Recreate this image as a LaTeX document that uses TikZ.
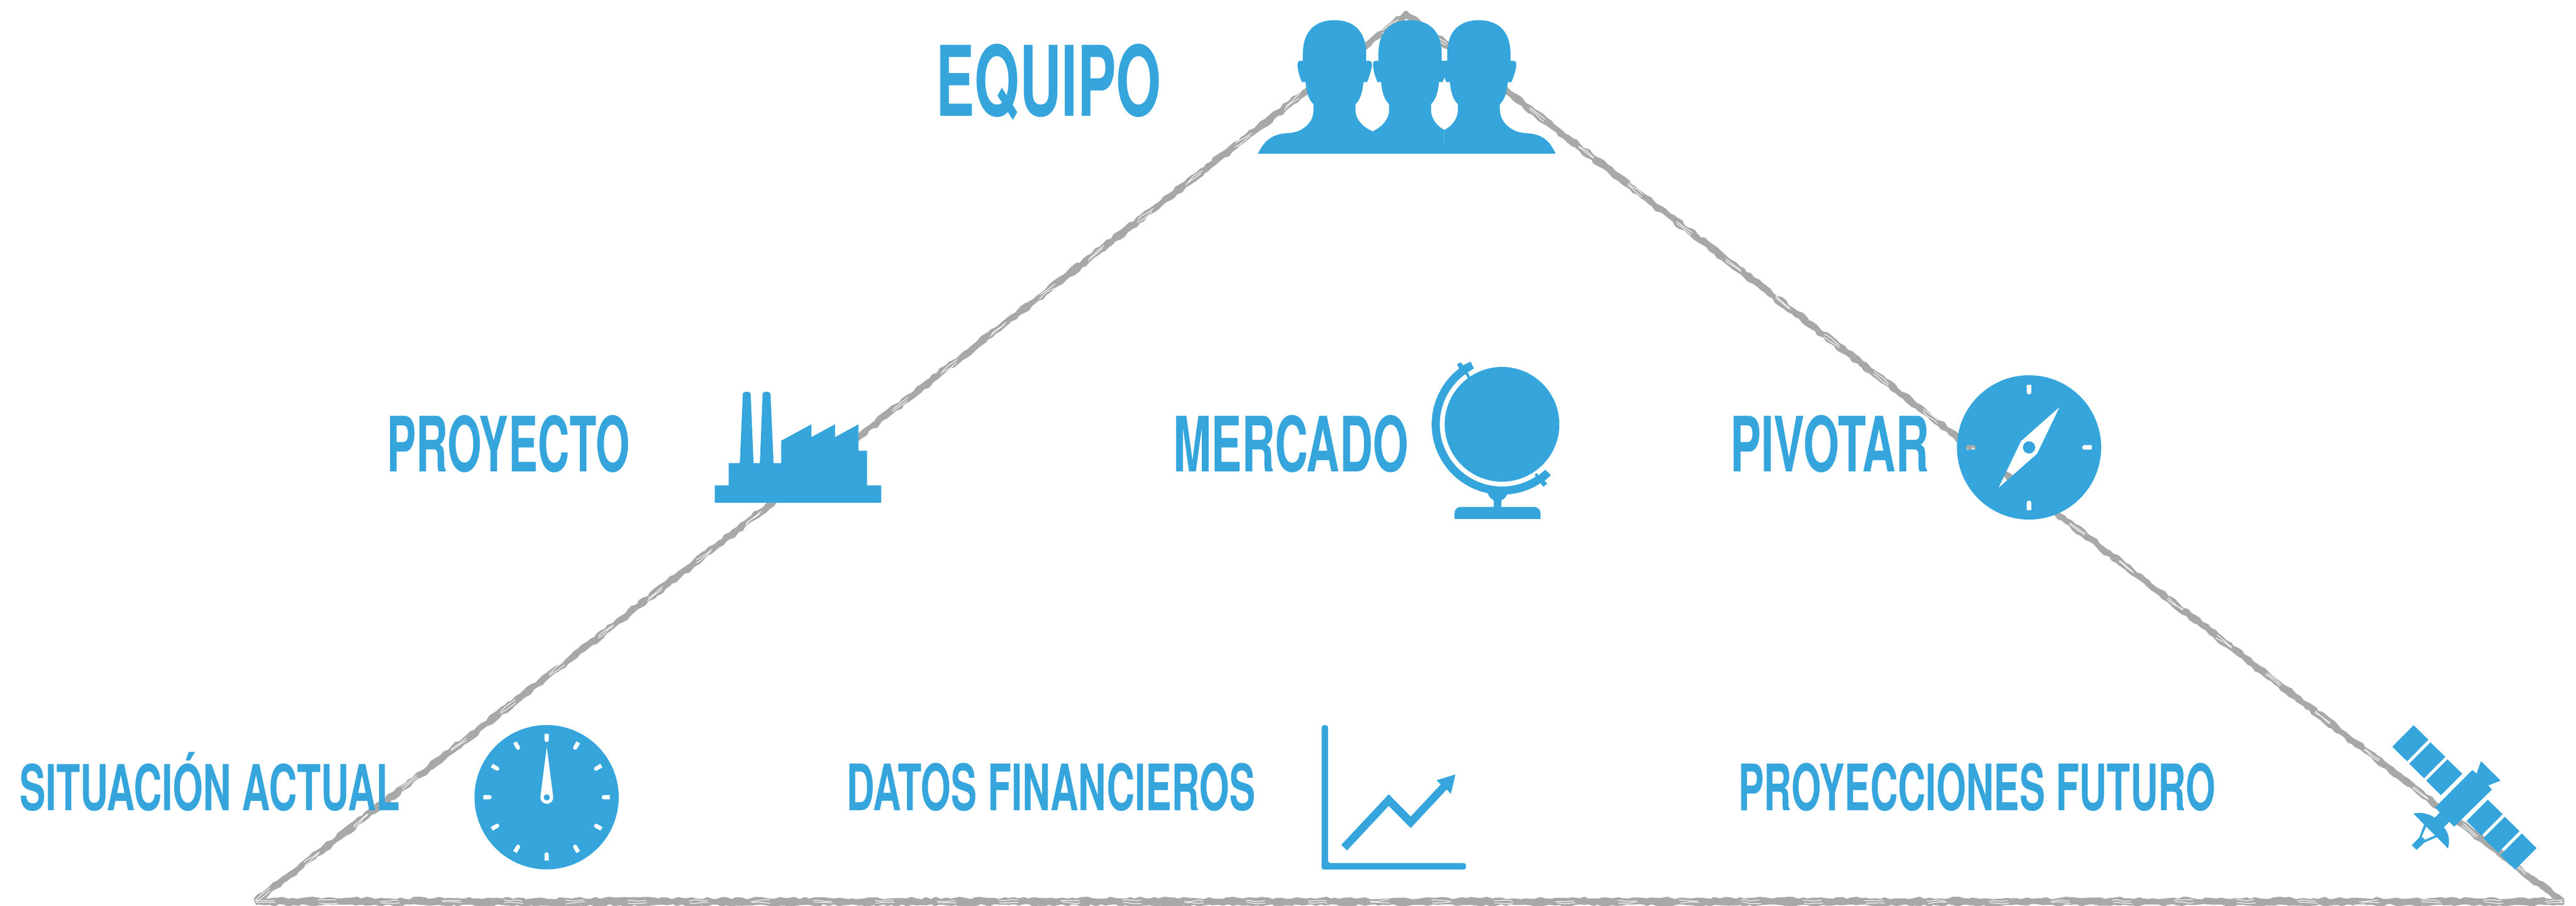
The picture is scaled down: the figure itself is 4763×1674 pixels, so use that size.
\documentclass[tikz,border=0pt]{standalone}
\usepackage{fontspec}
\usepackage{graphicx}
\usetikzlibrary{decorations.pathmorphing}
\setmainfont{TeX Gyre Heros}
\definecolor{iconblue}{HTML}{35A5DC}
\definecolor{pencil}{HTML}{A6A9A8}
\tikzset{
  label text/.style={anchor=north west,inner sep=0pt,outer sep=0pt,text=iconblue,font=\bfseries\fontsize{40}{48}\selectfont},
  icon/.style={fill=iconblue,draw=none},
  pencil stroke/.style={draw=pencil,line width=0.075cm,line join=round,decorate,decoration={random steps,segment length=0.09cm,amplitude=0.024cm}},
  pencil streak/.style={draw=white,line width=0.012cm,dash pattern=on 0.35cm off 0.8cm,decorate,decoration={random steps,segment length=0.15cm,amplitude=0.02cm}}
}
\newcommand{\fittext}[3]{\resizebox*{#1}{#2}{#3}}
\newcommand{\persona}[5]{%
  \fill[icon,shift={(#1,0)}] (-87,577) .. controls (-105,555) and (-115,520) .. (-120,455) -- (-135,455) .. controls (-143,430) and (-153,390) .. (-153,360) .. controls (-153,345) and (-150,337) .. (-142,337) -- (-131,337) -- (-131,300) .. controls (-131,170) and (-78,112) .. (0,112) .. controls (78,112) and (131,170) .. (131,300) -- (131,337) -- (142,337) .. controls (153,337) and (155,345) .. (155,365) .. controls (153,390) and (143,430) .. (135,455) -- (120,455) .. controls (115,520) and (105,555) .. (87,577) -- (87,610) .. controls (87,660) and (115,703) .. (#4,#5) -- (#4,852) -- (#2,852) -- (#2,#3) .. controls (-115,703) and (-87,660) .. (-87,610) -- cycle;}
\begin{document}
\begin{tikzpicture}[x=0.01cm,y=-0.01cm]
\useasboundingbox (0,0) rectangle (4763,1674);
\fill[white] (0,0) rectangle (4763,1674);
\pgfmathsetseed{7}
% pencil triangle
\coordinate (apex) at (2600,26);
\coordinate (left) at (472,1666);
\coordinate (right) at (4738,1666);
\foreach \dy in {-3,0,3}{
  \draw[pencil stroke] ([yshift=\dy*0.01cm]left) -- ([yshift=\dy*0.01cm]apex) -- ([yshift=\dy*0.01cm]right) -- ([yshift=\dy*0.01cm]left);
}
\foreach \dy in {-2,2}{
  \draw[pencil streak] ([yshift=\dy*0.01cm]left) -- ([yshift=\dy*0.01cm]apex) -- ([yshift=\dy*0.01cm]right) -- ([yshift=\dy*0.01cm]left);
}
% labels
\node[label text] (equipo) at (1730,81) {\fittext{4.17cm}{1.41cm}{EQUIPO}};
\node[label text] (proyecto) at (715,767) {\fittext{4.49cm}{1.06cm}{PROYECTO}};
\node[label text] (mercado) at (2169,767) {\fittext{4.35cm}{1.06cm}{MERCADO}};
\node[label text] (pivotar) at (3199,767) {\fittext{3.68cm}{1.06cm}{PIVOTAR}};
\node[label text] (situacion) at (36,1390) {\fittext{7.03cm}{1.09cm}{SITUACIÓN ACTUAL}};
\node[label text] (datos) at (1565,1410) {\fittext{7.56cm}{0.89cm}{DATOS FINANCIEROS}};
\node[label text] (proyecciones) at (3214,1410) {\fittext{8.82cm}{0.89cm}{PROYECCIONES FUTURO}};
% team icon
\begin{scope}[shift={(2250,0)},xscale=0.44643,yscale=0.33333]
  \persona{487}{-87}{700}{158}{728}
  \persona{800}{-155}{728}{142}{720}
  \persona{1085}{-143}{720}{87}{700}
  \fill[icon] (170,852) .. controls (200,770) and (235,742) .. (295,738) .. controls (360,735) and (402,670) .. (402,610) -- (440,610) -- (440,852) -- cycle;
  \fill[icon] (1172,610) .. controls (1172,670) and (1215,735) .. (1280,738) .. controls (1340,742) and (1375,770) .. (1403,852) -- (1130,852) -- (1130,610) -- cycle;
  \fill[icon] (440,800) rectangle (1140,852);
\end{scope}
% factory icon
\begin{scope}[shift={(1280,680)},scale=0.33333]
  \fill[icon] (125,747) -- (125,651) -- (202,651) -- (202,527) -- (264,527) -- (280,148) .. controls (280,138) and (286,132) .. (295,132) -- (309,132) .. controls (318,132) and (324,138) .. (324,148) -- (340,527) -- (375,527) -- (390,148) .. controls (390,138) and (396,132) .. (405,132) -- (419,132) .. controls (428,132) and (434,138) .. (434,148) -- (451,527) -- (493,527) -- (493,403) -- (661,312) -- (661,383) -- (792,312) -- (792,383) -- (922,312) -- (922,459) -- (969,459) -- (969,651) -- (1048,651) -- (1048,747) -- cycle;
\end{scope}
% globe icon
\begin{scope}[shift={(2620,640)},scale=0.33333]
  \fill[icon] (471.5,432) circle [radius=318];
  \draw[iconblue,line width=0.15cm] plot[domain=55.7:234.3,samples=90] ({471.5+367.5*cos(\x)},{432+367.5*sin(\x)});
  \fill[icon] (222,100) -- (243,88) -- (255,105) -- (297,85) -- (316,122) -- (283,143) -- (262,158) -- (235,125) -- cycle;
  \fill[icon] (268,152) -- (280,143) -- (295,168) -- (283,177) -- cycle;
  \fill[icon] (683,707) -- (712,684) -- (743,714) -- (708,745) -- (722,762) -- (700,778) -- (686,758) -- (660,727) -- cycle;
  \fill[icon] (652,712) -- (664,702) -- (680,722) -- (668,732) -- cycle;
  \fill[icon] (392,812) .. controls (400,840) and (425,858) .. (446,858) .. controls (470,858) and (495,840) .. (500,818) -- cycle;
  \fill[icon] (425,840) rectangle (468,895);
  \fill[icon] (208,957) -- (208,925) .. controls (208,905) and (222,890) .. (242,890) -- (650,890) .. controls (670,890) and (685,905) .. (685,925) -- (685,957) -- cycle;
\end{scope}
% compass icon
\begin{scope}[shift={(3590,670)},scale=0.33333]
  \fill[icon,even odd rule] (485,470) circle [radius=400]
    (472,123) -- (498,123) -- (498,164) .. controls (498,172) and (492,177) .. (485,177) .. controls (478,177) and (472,172) .. (472,164) -- cycle
    (472,818) -- (498,818) -- (498,777) .. controls (498,769) and (492,764) .. (485,764) .. controls (478,764) and (472,769) .. (472,777) -- cycle
    (137,457) -- (137,483) -- (178,483) .. controls (186,483) and (191,477) .. (191,470) .. controls (191,463) and (186,457) .. (178,457) -- cycle
    (833,457) -- (833,483) -- (792,483) .. controls (784,483) and (779,477) .. (779,470) .. controls (779,463) and (784,457) .. (792,457) -- cycle
    (655,245) -- (530,505) -- (315,695) -- (440,435) -- cycle
    (485,470) circle [radius=34];
\end{scope}
% clock icon
\begin{scope}[shift={(860,1320)},scale=0.33333]
  \fill[icon] (452,459) circle [radius=400];
  \foreach \a in {0,30,...,330}{
    \fill[white,shift={(452,459)},rotate=\a] (-11.5,-351) -- (11.5,-351) -- (11.5,-316) .. controls (11.5,-310) and (6,-305) .. (0,-305) .. controls (-6,-305) and (-11.5,-310) .. (-11.5,-316) -- cycle;
  }
  \fill[white] (453,180) -- (488,452) .. controls (492,478) and (473,496) .. (453,496) .. controls (433,496) and (414,478) .. (418,452) -- cycle;
  \fill[icon] (453,460) circle [radius=17];
\end{scope}
% chart icon
\begin{scope}[shift={(2420,1320)},scale=0.33333]
  \fill[icon,rounded corners=1.2pt] (71,60) -- (107,60) -- (107,824) -- (872,824) -- (872,860) -- (71,860) -- cycle;
  \fill[icon] (180,723) -- (443,443) -- (565,566) -- (732,388) -- (708,365) -- (813,333) -- (788,440) -- (765,416) -- (565,630) -- (443,507) -- (212,754) -- cycle;
\end{scope}
% satellite icon
\begin{scope}[shift={(4380,1310)},scale=0.33333]
  \fill[icon] (248,90) -- (330,170) -- (212,290) -- (130,209) -- cycle;
  \fill[icon] (342,185) -- (424,265) -- (306,384) -- (224,303) -- cycle;
  \fill[icon] (436,279) -- (518,359) -- (400,478) -- (318,397) -- cycle;
  \fill[icon] (660,503) -- (742,583) -- (624,702) -- (542,621) -- cycle;
  \fill[icon] (754,597) -- (835,677) -- (717,796) -- (636,715) -- cycle;
  \fill[icon] (848,690) -- (930,771) -- (811,890) -- (730,809) -- cycle;
  \fill[icon] (574,338) -- (597,358) -- (622,289) -- (731,397) -- (662,424) -- (683,446) -- (473,652) -- (446,625) -- (416,655) .. controls (445,690) and (450,730) .. (439,773) -- (247,580) .. controls (290,570) and (335,580) .. (365,603) -- (393,574) -- (368,545) -- cycle;
  \fill[icon] (306,640) -- (280,712) -- (238,755) -- (265,781) -- (308,740) -- (378,710) -- (368,700) -- (312,725) -- (293,708) -- (318,652) -- cycle;
\end{scope}
\end{tikzpicture}
\end{document}
